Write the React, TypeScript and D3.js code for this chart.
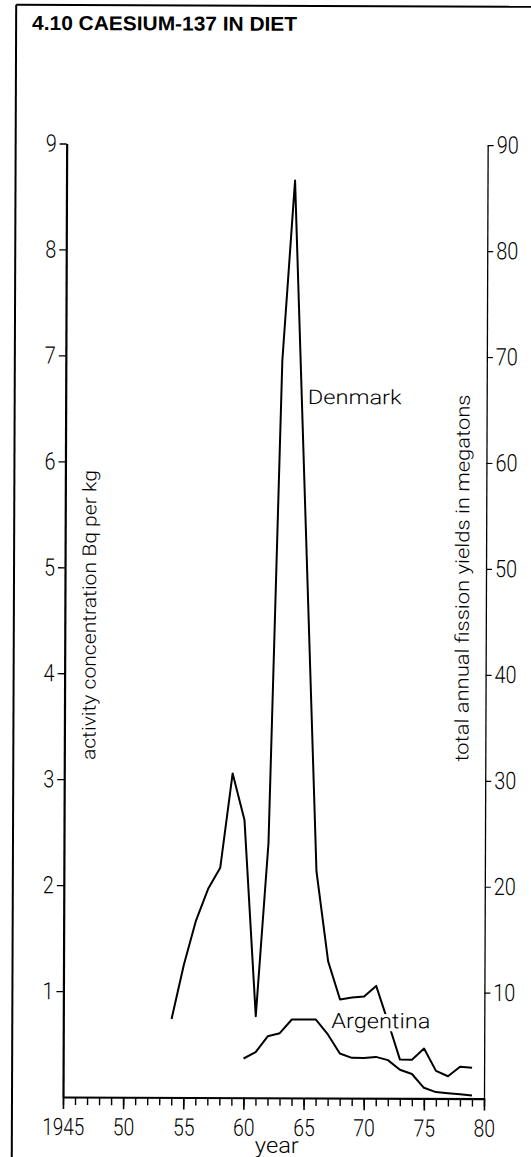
import React, { useEffect, useRef } from "react";
import * as d3 from "d3";

const title = "4.10 CAESIUM-137 IN DIET";
const xAxisTitle = "year";
const leftAxisTitle = "activity concentration Bq per kg";
const rightAxisTitle = "total annual fission yields in megatons";

const denmarkYears = [1954, 1955, 1956, 1957, 1958, 1959, 1960, 1961, 1962, 1963, 1964, 1965, 1966, 1967, 1968, 1969, 1970, 1971, 1972, 1973, 1974, 1975, 1976, 1977, 1978, 1979];
const denmarkValues = [0.74, 1.25, 1.67, 1.97, 2.17, 3.06, 2.62, 0.77, 2.4, 6.96, 8.66, 5.4, 2.14, 1.29, 0.93, 0.95, 0.96, 1.06, 0.72, 0.365, 0.365, 0.47, 0.26, 0.21, 0.3, 0.29];

const argentinaYears = [1960, 1961, 1962, 1963, 1964, 1965, 1966, 1967, 1968, 1969, 1970, 1971, 1972, 1973, 1974, 1975, 1976, 1977, 1978, 1979];
const argentinaValues = [0.37, 0.43, 0.58, 0.61, 0.74, 0.74, 0.74, 0.6, 0.42, 0.38, 0.38, 0.39, 0.36, 0.27, 0.23, 0.1, 0.06, 0.05, 0.04, 0.03];

const xMinorTicks = d3.range(1945, 1981);
const xMajorTicks = [1945, 1950, 1955, 1960, 1965, 1970, 1975, 1980];
const xTickLabels = ["1945", "50", "55", "60", "65", "70", "75", "80"];
const leftTicks = [1, 2, 3, 4, 5, 6, 7, 8, 9];
const rightTicks = [10, 20, 30, 40, 50, 60, 70, 80, 90];

const FONT_TICK = "Roboto,'Liberation Sans',sans-serif";
const FONT_TITLE = "'Liberation Sans',Arial,sans-serif";
const FONT_REG = "Roboto,'Liberation Sans',sans-serif";

export default function App() {
  const ref = useRef<SVGSVGElement>(null);

  useEffect(() => {
    const svg = d3.select(ref.current);
    svg.selectAll("*").remove();

    const left = 63, right = 484, bottom = 1097, top = 143.5;
    const x = d3.scaleLinear().domain([1945, 1980]).range([left, right]);
    const y = d3.scaleLinear().domain([0, 9]).range([bottom, top]);
    const yR = d3.scaleLinear().domain([0, 90]).range([bottom, top]);

    const g = svg.append("g").attr("transform", `rotate(0.22,${left},${bottom})`);

    // frame
    g.append("line").attr("x1", 12).attr("y1", 5).attr("x2", 560).attr("y2", 5).attr("stroke", "#000").attr("stroke-width", 2);
    g.append("line").attr("x1", 12).attr("y1", 5).attr("x2", 12).attr("y2", 1170).attr("stroke", "#000").attr("stroke-width", 2);

    // title
    g.append("text").attr("x", 28).attr("y", 30).text(title)
      .attr("font-family", FONT_TITLE).attr("font-weight", "bold").attr("font-size", 20)
      .attr("textLength", 265).attr("lengthAdjust", "spacingAndGlyphs").attr("fill", "#000");

    // x axis minor ticks
    const gxMinor = g.append("g").attr("transform", `translate(0,${bottom})`)
      .call(d3.axisBottom(x).tickValues(xMinorTicks).tickSize(8).tickSizeOuter(0).tickFormat(() => ""));
    gxMinor.select(".domain").attr("stroke-width", 2.2);
    gxMinor.selectAll(".tick line").attr("stroke-width", 1.4);

    // x axis major ticks + labels
    const gxMajor = g.append("g").attr("transform", `translate(0,${bottom})`)
      .call(d3.axisBottom(x).tickValues(xMajorTicks).tickSize(12).tickSizeOuter(0).tickPadding(9)
        .tickFormat((d, i) => xTickLabels[i]));
    gxMajor.select(".domain").remove();
    gxMajor.selectAll(".tick line").attr("stroke-width", 1.6);
    gxMajor.selectAll(".tick text")
      .attr("font-family", FONT_TICK).attr("font-weight", 300).attr("font-size", 24).attr("fill", "#000")
      .attr("textLength", (d, i) => (i === 0 ? 42 : 21.5)).attr("lengthAdjust", "spacingAndGlyphs");

    // x axis title
    g.append("text").attr("x", 277).attr("y", 1152).attr("text-anchor", "middle").text(xAxisTitle)
      .attr("font-family", FONT_TICK).attr("font-weight", 300).attr("font-size", 22).attr("fill", "#000")
      .attr("textLength", 44).attr("lengthAdjust", "spacingAndGlyphs");

    // left axis
    const gy = g.append("g").attr("transform", `translate(${left},0)`)
      .call(d3.axisLeft(y).tickValues(leftTicks).tickSize(7).tickSizeOuter(0).tickPadding(3).tickFormat(d3.format("d")));
    gy.select(".domain").attr("stroke-width", 2.2);
    gy.selectAll(".tick line").attr("stroke-width", 1.3);
    gy.selectAll(".tick text").attr("font-family", FONT_TICK).attr("font-weight", 300).attr("font-size", 24).attr("fill", "#000")
      .attr("textLength", 11).attr("lengthAdjust", "spacingAndGlyphs");

    // right axis
    const gyR = g.append("g").attr("transform", `translate(${right},0)`)
      .call(d3.axisRight(yR).tickValues(rightTicks).tickSize(6).tickSizeOuter(0).tickPadding(3).tickFormat(d3.format("d")));
    gyR.select(".domain").attr("stroke-width", 1.3);
    gyR.selectAll(".tick line").attr("stroke-width", 1.2);
    gyR.selectAll(".tick text").attr("font-family", FONT_TICK).attr("font-weight", 300).attr("font-size", 24).attr("fill", "#000")
      .attr("textLength", 22).attr("lengthAdjust", "spacingAndGlyphs");

    // axis titles
    g.append("text").attr("transform", `translate(94,760) rotate(-90)`).text(leftAxisTitle)
      .attr("font-family", FONT_TICK).attr("font-weight", 300).attr("font-size", 19).attr("fill", "#000")
      .attr("textLength", 290).attr("lengthAdjust", "spacingAndGlyphs");
    g.append("text").attr("transform", `translate(467,760) rotate(-90)`).text(rightAxisTitle)
      .attr("font-family", FONT_TICK).attr("font-weight", 300).attr("font-size", 19).attr("fill", "#000")
      .attr("textLength", 367).attr("lengthAdjust", "spacingAndGlyphs");

    const line = d3.line<[number, number]>().x(d => x(d[0])).y(d => y(d[1]));

    const den: [number, number][] = denmarkYears.map((yr, i) => [yr, denmarkValues[i]]);
    const arg: [number, number][] = argentinaYears.map((yr, i) => [yr, argentinaValues[i]]);

    g.append("path").attr("d", line(den)).attr("fill", "none").attr("stroke", "#000").attr("stroke-width", 2).attr("stroke-linejoin", "round");
    g.append("path").attr("d", line(arg)).attr("fill", "none").attr("stroke", "#000").attr("stroke-width", 2).attr("stroke-linejoin", "round");

    // series labels
    g.append("text").attr("x", 305).attr("y", 403).text("Denmark")
      .attr("font-family", FONT_REG).attr("font-weight", 300).attr("font-size", 20).attr("fill", "#000")
      .attr("textLength", 94).attr("lengthAdjust", "spacingAndGlyphs");
    g.append("text").attr("x", 331).attr("y", 1027).text("Argentina")
      .attr("font-family", FONT_REG).attr("font-weight", 300).attr("font-size", 21).attr("fill", "#000")
      .attr("stroke", "#fff").attr("stroke-width", 6).attr("paint-order", "stroke")
      .attr("textLength", 99).attr("lengthAdjust", "spacingAndGlyphs");
  }, []);

  return (
    <svg ref={ref} width={531} height={1157}
      style={{ position: "absolute", left: 0, top: 0, background: "#fff", display: "block" }} />
  );
}
